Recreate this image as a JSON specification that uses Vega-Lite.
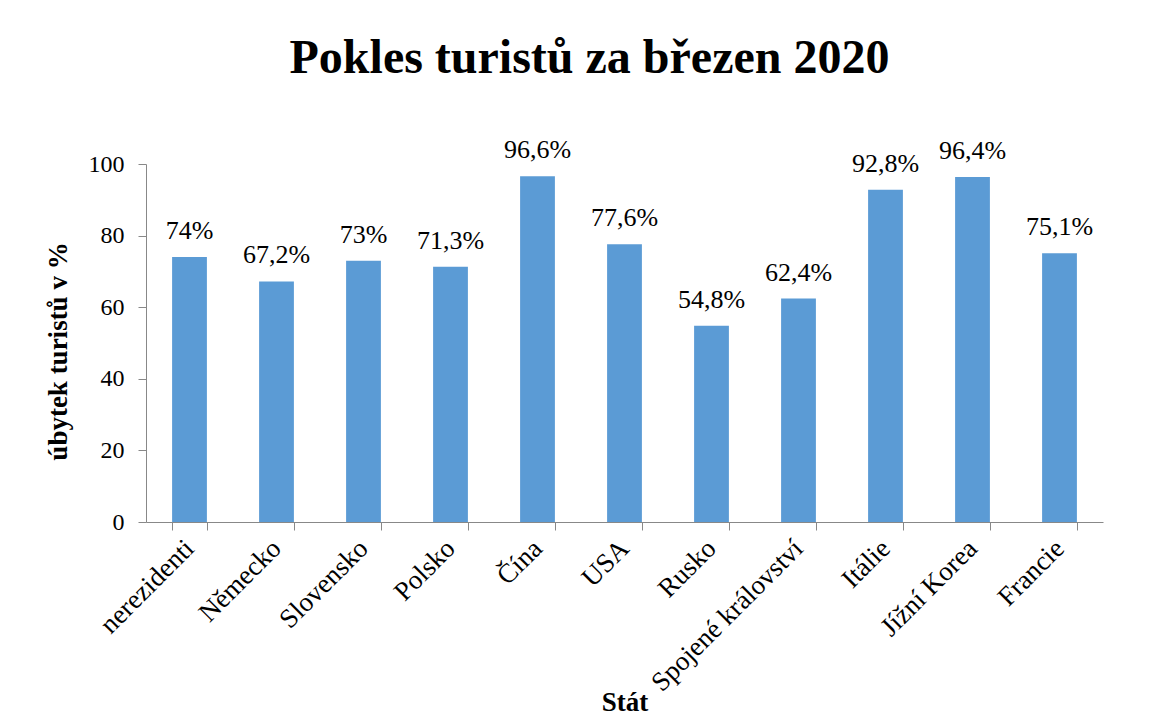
{
  "$schema": "https://vega.github.io/schema/vega-lite/v6.json",
  "width": 957,
  "height": 358,
  "autosize": "none",
  "padding": {"left": 146, "top": 164, "right": 56, "bottom": 195},
  "background": "white",
  "title": {
    "text": "Pokles turistů za březen 2020",
    "font": "Liberation Serif",
    "fontSize": 48,
    "fontWeight": "bold",
    "color": "black",
    "anchor": "middle",
    "frame": "group",
    "dx": -35,
    "offset": 54
  },
  "data": {
    "values": [
      {"stat": "nerezidenti", "pokles": 74, "label": "74%"},
      {"stat": "Německo", "pokles": 67.2, "label": "67,2%"},
      {"stat": "Slovensko", "pokles": 73, "label": "73%"},
      {"stat": "Polsko", "pokles": 71.3, "label": "71,3%"},
      {"stat": "Čína", "pokles": 96.6, "label": "96,6%"},
      {"stat": "USA", "pokles": 77.6, "label": "77,6%"},
      {"stat": "Rusko", "pokles": 54.8, "label": "54,8%"},
      {"stat": "Spojené království", "pokles": 62.4, "label": "62,4%"},
      {"stat": "Itálie", "pokles": 92.8, "label": "92,8%"},
      {"stat": "Jížní Korea", "pokles": 96.4, "label": "96,4%"},
      {"stat": "Francie", "pokles": 75.1, "label": "75,1%"}
    ]
  },
  "encoding": {
    "x": {
      "field": "stat",
      "type": "nominal",
      "sort": null,
      "scale": {"paddingInner": 0.6, "paddingOuter": 0.3},
      "axis": {
        "title": "Stát",
        "titleFont": "Liberation Serif",
        "titleFontSize": 27,
        "titleFontWeight": "bold",
        "titleColor": "black",
        "titleBaseline": "alphabetic",
        "titleY": 188,
        "labelAngle": -45,
        "labelAlign": "right",
        "labelBaseline": "middle",
        "labelFont": "Liberation Serif",
        "labelFontSize": 27,
        "labelColor": "black",
        "labelPadding": 14,
        "labelLimit": 400,
        "tickBand": "extent",
        "tickSize": 8,
        "tickColor": "#888888",
        "domainColor": "#888888",
        "grid": false
      }
    },
    "y": {
      "field": "pokles",
      "type": "quantitative",
      "scale": {"domain": [0, 100]},
      "axis": {
        "title": "úbytek turistů v %",
        "titleFont": "Liberation Serif",
        "titleFontSize": 27,
        "titleFontWeight": "bold",
        "titleColor": "black",
        "titlePadding": 16,
        "titleY": 187,
        "values": [0, 20, 40, 60, 80, 100],
        "labelFont": "Liberation Serif",
        "labelFontSize": 24,
        "labelColor": "black",
        "labelPadding": 14,
        "tickSize": 8,
        "tickColor": "#888888",
        "domainColor": "#888888",
        "grid": false
      }
    }
  },
  "layer": [
    {"mark": {"type": "bar", "color": "#5B9BD5"}},
    {
      "mark": {"type": "text", "baseline": "alphabetic", "dy": -18, "font": "Liberation Serif", "fontSize": 26, "color": "black"},
      "encoding": {"text": {"field": "label"}}
    }
  ],
  "config": {"view": {"stroke": null}}
}
